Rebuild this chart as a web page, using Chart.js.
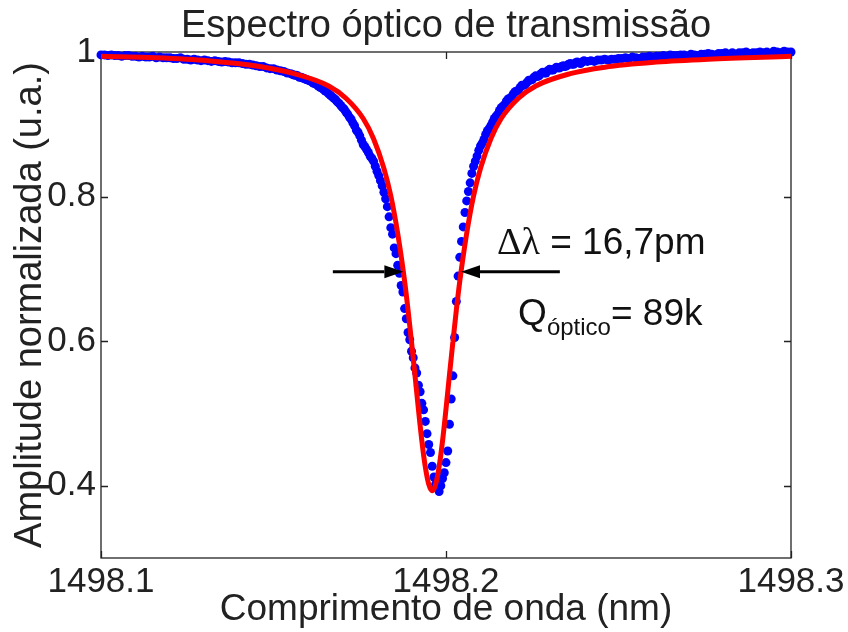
<!DOCTYPE html>
<html lang="pt">
<head>
<meta charset="utf-8">
<title>Espectro óptico de transmissão</title>
<script src="https://cdn.jsdelivr.net/npm/chart.js@4.4.1/dist/chart.umd.min.js"></script>
<style>
  html, body { margin: 0; padding: 0; background: #fff; }
  #grafico { display: block; }
</style>
</head>
<body>
<canvas id="grafico" width="848" height="632"></canvas>
<script>
// Medida: varredura do laser (passo de 1 pm nos extremos, 0,5 pm nos flancos)
const lambdaMedido = [
  1498.100, 1498.101, 1498.102, 1498.103, 1498.104, 1498.105, 1498.106, 1498.107, 1498.108, 1498.109,
  1498.110, 1498.111, 1498.112, 1498.113, 1498.114, 1498.115, 1498.116, 1498.117, 1498.118, 1498.119,
  1498.120, 1498.121, 1498.122, 1498.123, 1498.124, 1498.125, 1498.126, 1498.127, 1498.128, 1498.129,
  1498.130, 1498.131, 1498.132, 1498.133, 1498.134, 1498.135, 1498.136, 1498.137, 1498.138, 1498.139,
  1498.140, 1498.141, 1498.142, 1498.143, 1498.144, 1498.145, 1498.146, 1498.147, 1498.148, 1498.149,
  1498.150, 1498.151, 1498.152, 1498.153, 1498.154,
  1498.1550, 1498.1555, 1498.1560, 1498.1565, 1498.1570, 1498.1575, 1498.1580, 1498.1585, 1498.1590, 1498.1595,
  1498.1600, 1498.1605, 1498.1610, 1498.1615, 1498.1620, 1498.1625, 1498.1630, 1498.1635, 1498.1640, 1498.1645,
  1498.1650, 1498.1655, 1498.1660, 1498.1665, 1498.1670, 1498.1675, 1498.1680, 1498.1685, 1498.1690, 1498.1695,
  1498.1700, 1498.1705, 1498.1710, 1498.1715, 1498.1720, 1498.1725, 1498.1730, 1498.1735, 1498.1740, 1498.1745,
  1498.1750, 1498.1755, 1498.1760, 1498.1765, 1498.1770, 1498.1775, 1498.1780, 1498.1785, 1498.1790, 1498.1795,
  1498.1800, 1498.1805, 1498.1810, 1498.1815, 1498.1820, 1498.1825, 1498.1830, 1498.1835,
  1498.1840, 1498.1845, 1498.1850, 1498.1855, 1498.1860, 1498.1865, 1498.1870, 1498.1875, 1498.1880, 1498.1885,
  1498.1890, 1498.1895, 1498.1900, 1498.1905, 1498.1910, 1498.1915, 1498.1920, 1498.1925, 1498.1930, 1498.1935,
  1498.1940, 1498.1945, 1498.1950, 1498.1955, 1498.1960, 1498.1965, 1498.1970, 1498.1975, 1498.1980, 1498.1985,
  1498.1990, 1498.1995, 1498.2000, 1498.2005, 1498.2010, 1498.2015, 1498.2020, 1498.2025, 1498.2030, 1498.2035,
  1498.2040, 1498.2045, 1498.2050, 1498.2055, 1498.2060, 1498.2065, 1498.2070, 1498.2075, 1498.2080,
  1498.2085, 1498.2090, 1498.2095, 1498.2100, 1498.2105, 1498.2110, 1498.2115, 1498.2120, 1498.2125, 1498.2130,
  1498.2135, 1498.2140, 1498.2145, 1498.2150, 1498.2155, 1498.2160, 1498.2165, 1498.2170, 1498.2175, 1498.2180,
  1498.2185, 1498.2190, 1498.2195, 1498.2200, 1498.2205, 1498.2210, 1498.2215, 1498.2220, 1498.2225, 1498.2230,
  1498.2235, 1498.2240, 1498.2245, 1498.2250, 1498.2255, 1498.2260, 1498.2265, 1498.2270, 1498.2275, 1498.2280,
  1498.2285, 1498.2290, 1498.2295, 1498.2300, 1498.2305, 1498.2310, 1498.2315, 1498.2320, 1498.2325, 1498.2330,
  1498.2335, 1498.2340, 1498.2345, 1498.2350, 1498.2355, 1498.2360, 1498.2365, 1498.2370, 1498.2375, 1498.2380,
  1498.2385, 1498.2390, 1498.2395, 1498.2400,
  1498.241, 1498.242, 1498.243, 1498.244, 1498.245, 1498.246, 1498.247, 1498.248, 1498.249, 1498.250,
  1498.251, 1498.252, 1498.253, 1498.254, 1498.255, 1498.256, 1498.257, 1498.258, 1498.259, 1498.260,
  1498.261, 1498.262, 1498.263, 1498.264, 1498.265, 1498.266, 1498.267, 1498.268, 1498.269, 1498.270,
  1498.271, 1498.272, 1498.273, 1498.274, 1498.275, 1498.276, 1498.277, 1498.278, 1498.279, 1498.280,
  1498.281, 1498.282, 1498.283, 1498.284, 1498.285, 1498.286, 1498.287, 1498.288, 1498.289, 1498.290,
  1498.291, 1498.292, 1498.293, 1498.294, 1498.295, 1498.296, 1498.297, 1498.298, 1498.299, 1498.300
];

const amplitudeMedida = [
  0.996, 0.996, 0.995, 0.996, 0.995, 0.995, 0.994, 0.995, 0.995, 0.994,
  0.994, 0.993, 0.994, 0.993, 0.993, 0.994, 0.992, 0.993, 0.992, 0.992,
  0.992, 0.991, 0.991, 0.992, 0.990, 0.990, 0.989, 0.990, 0.989, 0.988,
  0.989, 0.988, 0.987, 0.988, 0.987, 0.986, 0.987, 0.986, 0.985, 0.985,
  0.985, 0.984, 0.983, 0.983, 0.982, 0.981, 0.980, 0.980, 0.978, 0.977,
  0.977, 0.975, 0.974, 0.973, 0.971,
  0.970, 0.969, 0.968, 0.968, 0.967, 0.965, 0.965, 0.964, 0.963, 0.962,
  0.961, 0.960, 0.959, 0.957, 0.956, 0.955, 0.953, 0.951, 0.950, 0.948,
  0.946, 0.945, 0.942, 0.940, 0.938, 0.936, 0.934, 0.931, 0.929, 0.926,
  0.923, 0.921, 0.917, 0.914, 0.910, 0.907, 0.902, 0.898, 0.892, 0.889,
  0.884, 0.878, 0.872, 0.869, 0.865, 0.861, 0.856, 0.853, 0.849, 0.842,
  0.835, 0.829, 0.822, 0.815, 0.806, 0.797, 0.786, 0.772,
  0.757, 0.748, 0.729, 0.721, 0.705, 0.694, 0.677, 0.668, 0.645, 0.631,
  0.612, 0.602, 0.586, 0.577, 0.563, 0.556, 0.539, 0.530, 0.514, 0.505,
  0.489, 0.472, 0.457, 0.446, 0.427, 0.412, 0.402, 0.397, 0.392, 0.400,
  0.410, 0.418, 0.432, 0.448, 0.485, 0.520, 0.552, 0.605, 0.655, 0.690,
  0.716, 0.738, 0.758, 0.778, 0.794, 0.807, 0.819, 0.832, 0.842,
  0.849, 0.856, 0.864, 0.870, 0.874, 0.879, 0.886, 0.891, 0.894, 0.898,
  0.903, 0.908, 0.911, 0.914, 0.919, 0.923, 0.925, 0.927, 0.932, 0.935,
  0.936, 0.938, 0.942, 0.945, 0.946, 0.947, 0.951, 0.954, 0.954, 0.955,
  0.958, 0.961, 0.961, 0.962, 0.965, 0.967, 0.966, 0.967, 0.970, 0.972,
  0.971, 0.971, 0.974, 0.976, 0.975, 0.975, 0.977, 0.979, 0.978, 0.978,
  0.980, 0.981, 0.980, 0.981, 0.983, 0.984, 0.983, 0.983, 0.985, 0.986,
  0.985, 0.984, 0.986, 0.988,
  0.987, 0.988, 0.987, 0.989, 0.989, 0.990, 0.989, 0.990, 0.990, 0.991,
  0.991, 0.992, 0.991, 0.993, 0.992, 0.991, 0.993, 0.993, 0.994, 0.993,
  0.994, 0.994, 0.995, 0.994, 0.996, 0.995, 0.995, 0.996, 0.996, 0.993,
  0.997, 0.996, 0.995, 0.997, 0.997, 0.998, 0.997, 0.996, 0.998, 0.998,
  0.999, 0.996, 0.999, 0.997, 0.999, 0.999, 1.000, 0.998, 0.999, 0.999,
  1.000, 0.999, 1.000, 0.998, 1.001, 1.000, 0.999, 1.001, 1.000, 1.000
];

// Ajuste lorentziano
const lambdaAjuste = [
  1498.100, 1498.116, 1498.131, 1498.146, 1498.156, 1498.166, 1498.171, 1498.176, 1498.179, 1498.182,
  1498.184, 1498.186, 1498.188, 1498.189, 1498.190, 1498.191, 1498.192, 1498.193, 1498.194, 1498.195,
  1498.196,
  1498.197, 1498.198, 1498.199, 1498.200, 1498.201, 1498.202, 1498.203, 1498.204, 1498.206, 1498.208,
  1498.210, 1498.213, 1498.216, 1498.221, 1498.226, 1498.236, 1498.246, 1498.261, 1498.276, 1498.300
];
const amplitudeAjuste = [
  0.994, 0.992, 0.988, 0.980, 0.970, 0.953, 0.936, 0.908, 0.880, 0.839,
  0.801, 0.749, 0.683, 0.643, 0.599, 0.553, 0.506, 0.462, 0.426, 0.402,
  0.393,
  0.402, 0.426, 0.462, 0.506, 0.553, 0.599, 0.643, 0.683, 0.749, 0.801,
  0.839, 0.880, 0.908, 0.936, 0.953, 0.970, 0.979, 0.986, 0.990, 0.994
];

const ticksX = [1498.1, 1498.2, 1498.3];
const ticksY = [0.4, 0.6, 0.8, 1];

// largura a meia altura (pm) e centro da ressonância (nm)
const larguraPm = 16.7;
const lambdaCentro = 1498.196;
const amplitudeMeia = 0.696;
const fatorQ = '89k';

const corTexto = '#222';
const fonte = "'Liberation Sans', Arial, Helvetica, sans-serif";

const medida = lambdaMedido.map((l, i) => ({ x: l, y: amplitudeMedida[i] }));
const ajuste = lambdaAjuste.map((l, i) => ({ x: l, y: amplitudeAjuste[i] }));

// moldura com marcas internas (estilo MATLAB), título e anotações
const moldura = {
  id: 'moldura',
  beforeDatasetsDraw(chart) {
    const { ctx, chartArea: a, scales: { x, y } } = chart;
    ctx.save();
    ctx.strokeStyle = corTexto;
    ctx.lineWidth = 1.3;
    ctx.strokeRect(a.left, a.top, a.right - a.left, a.bottom - a.top);
    const t = 7;
    ctx.beginPath();
    ticksX.forEach(v => {
      const px = Math.round(x.getPixelForValue(v)) + 0.5;
      ctx.moveTo(px, a.bottom); ctx.lineTo(px, a.bottom - t);
      ctx.moveTo(px, a.top); ctx.lineTo(px, a.top + t);
    });
    ticksY.forEach(v => {
      const py = Math.round(y.getPixelForValue(v)) + 0.5;
      ctx.moveTo(a.left, py); ctx.lineTo(a.left + t, py);
      ctx.moveTo(a.right, py); ctx.lineTo(a.right - t, py);
    });
    ctx.stroke();

    ctx.fillStyle = corTexto;
    ctx.font = '38px ' + fonte;
    ctx.textAlign = 'center';
    ctx.textBaseline = 'alphabetic';
    ctx.fillText('Espectro óptico de transmissão', (a.left + a.right) / 2, 37);
    ctx.restore();
  },
  afterDatasetsDraw(chart) {
    const { ctx, scales: { x, y } } = chart;
    const yMeia = y.getPixelForValue(amplitudeMeia);
    const xEsq = x.getPixelForValue(lambdaCentro - larguraPm / 2000);
    const xDir = x.getPixelForValue(lambdaCentro + larguraPm / 2000);

    const seta = (x0, x1) => {
      const dir = Math.sign(x1 - x0);
      const comp = 19, meia = 6.5;
      ctx.beginPath();
      ctx.moveTo(x0, yMeia);
      ctx.lineTo(x1 - dir * comp, yMeia);
      ctx.stroke();
      ctx.beginPath();
      ctx.moveTo(x1, yMeia);
      ctx.lineTo(x1 - dir * comp, yMeia - meia);
      ctx.lineTo(x1 - dir * comp, yMeia + meia);
      ctx.closePath();
      ctx.fill();
    };

    ctx.save();
    ctx.strokeStyle = '#000';
    ctx.fillStyle = '#000';
    ctx.lineWidth = 3;
    seta(x.getPixelForValue(1498.1672), xEsq);
    seta(x.getPixelForValue(1498.2330), xDir);

    // Δλ = 16,7pm
    ctx.fillStyle = '#111';
    ctx.textAlign = 'left';
    ctx.textBaseline = 'alphabetic';
    let px = x.getPixelForValue(1498.2148);
    let base = y.getPixelForValue(0.738) + 13;
    ctx.font = "38px 'Liberation Serif', 'Times New Roman', serif";
    ctx.fillText('Δλ', px, base);
    px += ctx.measureText('Δλ').width;
    ctx.font = '37px ' + fonte;
    ctx.fillText(' = ' + String(larguraPm).replace('.', ',') + 'pm', px, base);

    // Q óptico = 89k
    px = x.getPixelForValue(1498.2209);
    base = y.getPixelForValue(0.641) + 13;
    ctx.font = '37px ' + fonte;
    ctx.fillText('Q', px, base);
    px += ctx.measureText('Q').width;
    ctx.font = '24px ' + fonte;
    ctx.fillText('óptico', px, base + 10);
    px += ctx.measureText('óptico').width;
    ctx.font = '37px ' + fonte;
    ctx.fillText('= ' + fatorQ, px, base);
    ctx.restore();
  }
};

Chart.defaults.font.family = fonte;
Chart.defaults.color = corTexto;

new Chart(document.getElementById('grafico'), {
  type: 'scatter',
  data: {
    datasets: [
      {
        label: 'Ajuste',
        data: ajuste,
        showLine: true,
        borderColor: '#ff0000',
        borderWidth: 5,
        pointRadius: 0,
        cubicInterpolationMode: 'monotone',
        clip: false,
        order: 0
      },
      {
        label: 'Medida',
        data: medida,
        pointRadius: 4.5,
        pointBorderWidth: 0,
        pointBackgroundColor: '#0000ff',
        pointStyle: 'circle',
        clip: false,
        order: 1
      }
    ]
  },
  plugins: [moldura],
  options: {
    responsive: false,
    animation: false,
    devicePixelRatio: 1,
    layout: { padding: { top: 52, right: 57, bottom: 0, left: 0 } },
    plugins: { legend: { display: false }, tooltip: { enabled: false }, title: { display: false } },
    scales: {
      x: {
        type: 'linear',
        min: 1498.1,
        max: 1498.3,
        afterBuildTicks: s => { s.ticks = ticksX.map(v => ({ value: v })); },
        afterFit: s => { s.height = 74; },
        ticks: { callback: v => v.toFixed(1), font: { size: 35 }, padding: 3, maxRotation: 0, autoSkip: false },
        grid: { display: false, drawTicks: false },
        border: { display: false },
        title: { display: true, text: 'Comprimento de onda (nm)', font: { size: 37 }, padding: { top: 0, bottom: 0 } }
      },
      y: {
        type: 'linear',
        min: 0.3,
        max: 1.0,
        afterBuildTicks: s => { s.ticks = ticksY.map(v => ({ value: v })); },
        afterFit: s => { s.width = 101; },
        ticks: { callback: v => String(v), font: { size: 35 }, padding: 5, autoSkip: false },
        grid: { display: false, drawTicks: false },
        border: { display: false },
        title: { display: true, text: 'Amplitude normalizada (u.a.)', font: { size: 38 }, padding: { top: 8, bottom: 0 } }
      }
    }
  }
});
</script>
</body>
</html>
